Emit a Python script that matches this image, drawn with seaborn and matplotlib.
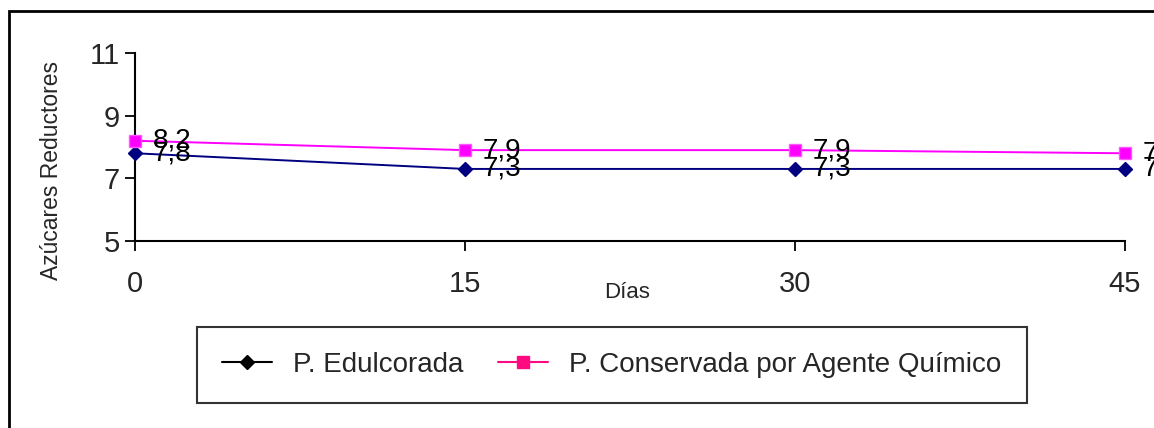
import matplotlib
matplotlib.use("Agg")
import matplotlib.pyplot as plt
from matplotlib.lines import Line2D
from matplotlib.patches import Rectangle
import pandas as pd
import seaborn as sns

# Data
dias = [0, 15, 30, 45]
edulcorada = [7.8, 7.3, 7.3, 7.3]
conservada = [8.2, 7.9, 7.9, 7.8]
series_names = ["P. Edulcorada", "P. Conservada por Agente Químico"]
y_ticks = [5, 7, 9, 11]

sns.set_style("white")
plt.rcParams["font.family"] = ["Liberation Sans", "DejaVu Sans"]

W, H = 1154, 428
fig = plt.figure(figsize=(W / 100, H / 100), dpi=100)
ax = fig.add_axes([135 / W, 1 - 241 / H, (1125 - 135) / W, (241 - 53) / H])

df = pd.DataFrame({
    "Días": dias * 2,
    "valor": edulcorada + conservada,
    "serie": [series_names[0]] * 4 + [series_names[1]] * 4,
})

colors = {series_names[0]: "#000080", series_names[1]: "#FF00FF"}
edges = {series_names[0]: "#000080", series_names[1]: "#FF55FF"}
markers = {series_names[0]: "D", series_names[1]: "s"}
sizes = {series_names[0]: 7.5, series_names[1]: 9}

for name in series_names:
    sub = df[df["serie"] == name]
    sns.lineplot(data=sub, x="Días", y="valor", ax=ax, color=colors[name],
                 marker=markers[name], markersize=sizes[name],
                 markeredgecolor=edges[name], markeredgewidth=1,
                 linewidth=1.4, legend=False, clip_on=False, zorder=3)

# Value labels next to each point
for vals in (edulcorada, conservada):
    for x, v in zip(dias, vals):
        ax.annotate(f"{v:.1f}".replace(".", ","), (x, v), xytext=(13, 0),
                    textcoords="offset points", fontsize=20, va="center",
                    ha="left", color="black", annotation_clip=False, zorder=4)

ax.set_xlim(0, 45)
ax.set_ylim(5, 11)
ax.set_xticks(dias)
ax.set_yticks(y_ticks)
ax.tick_params(axis="both", which="major", labelsize=21, direction="out",
               length=7, width=1.3, color="black", bottom=True, left=True)
ax.tick_params(axis="x", pad=14)
ax.tick_params(axis="y", pad=4)
for side in ("top", "right"):
    ax.spines[side].set_visible(False)
for side in ("left", "bottom"):
    ax.spines[side].set_color("black")
    ax.spines[side].set_linewidth(1.5)

ax.set_xlabel("Días", fontsize=16)
ax.xaxis.set_label_coords((627 - 135) / 990, -(292 - 241) / 188)
ax.xaxis.label.set_va("center")
ax.set_ylabel("Azúcares Reductores", fontsize=16.5)
ax.yaxis.set_label_coords((52 - 135) / 990, 1 - (170 - 53) / 188)
ax.yaxis.label.set_va("center")

# Legend
handles = [
    Line2D([0], [0], color="black", marker="D", markersize=7.5, linewidth=1.5),
    Line2D([0], [0], color="#FF0A80", marker="s", markersize=9, linewidth=1.5),
]
leg = fig.legend(handles, series_names, loc="center",
                 bbox_to_anchor=(612 / W, 1 - 365 / H), ncol=2,
                 fontsize=20, frameon=True, fancybox=False, edgecolor="black",
                 handlelength=1.8, handletextpad=0.75, columnspacing=1.25,
                 borderpad=0.9, borderaxespad=0)
leg.get_frame().set_linewidth(1.5)

# Outer chart frame
fig.patches.append(Rectangle((9 / W, -0.5), 2, 0.5 + 1 - 11 / H,
                             transform=fig.transFigure, fill=False,
                             edgecolor="black", linewidth=2))

fig.savefig("out.png", dpi=100)
